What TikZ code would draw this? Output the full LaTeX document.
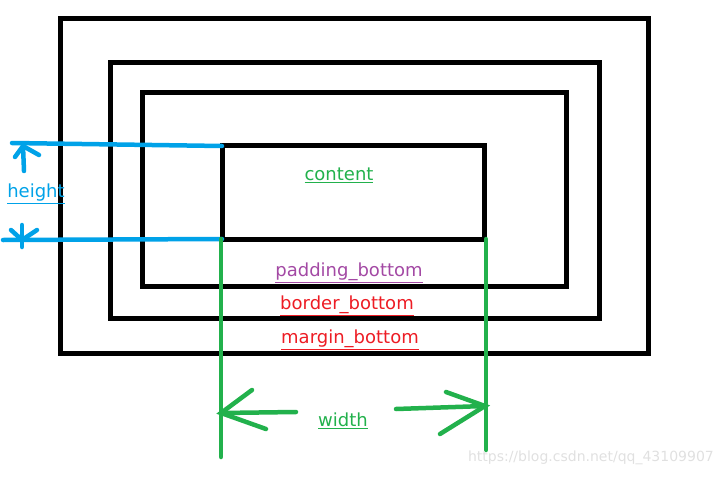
\documentclass[tikz,border=0pt]{standalone}
\usepackage{fontspec}
\setmainfont{DejaVu Sans}
\definecolor{pblue}{RGB}{0,162,232}
\definecolor{pgreen}{RGB}{34,177,76}
\definecolor{pred}{RGB}{237,28,36}
\definecolor{ppurple}{RGB}{163,73,164}
\tikzset{
  box/.style={draw=black,line width=5pt},
  bl/.style={draw=pblue,line width=4.5pt,line cap=round},
  gl/.style={draw=pgreen,line width=4.5pt,line cap=round},
  lbl/.style={inner sep=0pt,font=\fontsize{18}{21}\selectfont}
}
\begin{document}
\begin{tikzpicture}[x=1pt,y=-1pt]
\useasboundingbox (0,0) rectangle (719,476);
% boxes
\draw[box] (60.5,18.5) rectangle (648,353);
\draw[box] (110,63) rectangle (599,318);
\draw[box] (142,93) rectangle (566,286);
\draw[box] (222,145) rectangle (484,239);
% height guides
\coordinate (ht0) at (12,143);
\coordinate (ht1) at (222,146);
\coordinate (hb0) at (3,240);
\coordinate (hb1) at (222,239);
\draw[bl] (ht0) -- (ht1);
\draw[bl] (hb0) -- (hb1);
\coordinate (ua) at (23,146);
\draw[bl] (24,171) -- (ua);
\draw[bl] (15,157) -- (ua) -- (39,155);
\coordinate (da) at (22,240);
\draw[bl] (22,225) -- (da) -- (22,247);
\draw[bl] (11,230) -- (da) -- (37,230);
% width guides
\coordinate (wl0) at (221,239);
\coordinate (wl1) at (221,457);
\coordinate (wr0) at (486,239);
\coordinate (wr1) at (486,450);
\draw[gl] (wl0) -- (wl1);
\draw[gl] (wr0) -- (wr1);
\coordinate (la) at (221,413);
\draw[gl] (296,412) -- (la);
\draw[gl] (252,390) -- (la) -- (266,429);
\coordinate (ra) at (485,406);
\draw[gl] (396,409) -- (ra);
\draw[gl] (446,392) -- (ra) -- (440,434);
% labels
\node[lbl,text=pblue] (height) at (36,194) {\underline{height}};
\node[lbl,text=pgreen] (content) at (339,175) {\underline{content}};
\node[lbl,text=ppurple] (pad) at (349,273) {\underline{padding\_bottom}};
\node[lbl,text=pred] (bor) at (347,306) {\underline{border\_bottom}};
\node[lbl,text=pred] (mar) at (350,340) {\underline{margin\_bottom}};
\node[lbl,text=pgreen] (width) at (343,421) {\underline{width}};
\node[inner sep=0pt,text=black!12,font=\fontsize{14}{16}\selectfont,anchor=east] (wm) at (714,458) {https://blog.csdn.net/qq\_43109907};
\end{tikzpicture}
\end{document}
